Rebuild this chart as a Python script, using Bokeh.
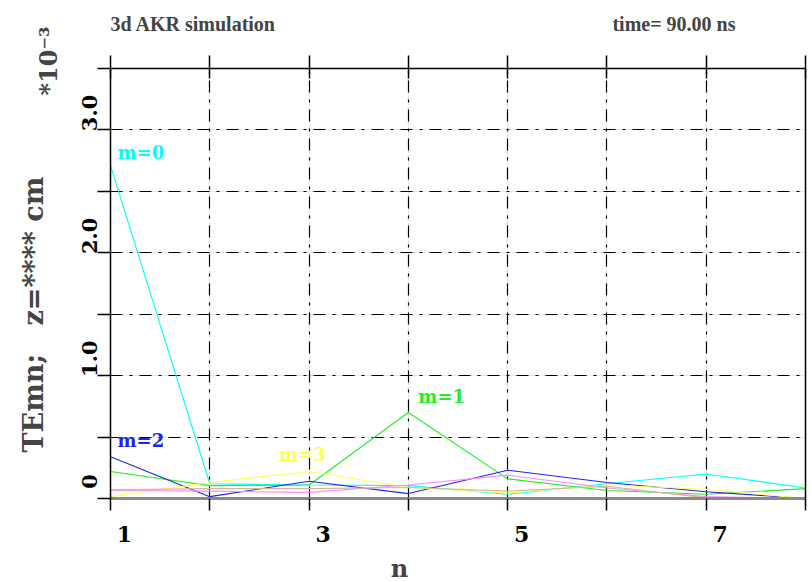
import math
from bokeh.plotting import figure
from bokeh.models import Label, LinearAxis, FixedTicker, Range1d, Grid
from bokeh.core.properties import value
from bokeh.embed import file_html
from bokeh.resources import INLINE

# ---- data (units of 1e-3) ----
n = [1, 2, 3, 4, 5, 6, 7, 8]
m0 = [2.71, 0.12, 0.11, 0.105, 0.035, 0.12, 0.20, 0.085]   # cyan
m1 = [0.22, 0.105, 0.11, 0.70, 0.16, 0.065, 0.035, 0.08]   # green
m2 = [0.34, 0.015, 0.14, 0.04, 0.23, 0.13, 0.055, 0.0]     # blue
m3 = [0.015, 0.13, 0.22, 0.09, 0.045, 0.11, 0.075, 0.0]    # yellow
m4 = [0.065, 0.06, 0.05, 0.11, 0.19, 0.085, 0.015, 0.0]    # pink
m5 = [0.07, 0.08, 0.08, 0.09, 0.06, 0.10, 0.005, 0.0]      # tan

series = [m0, m1, m2, m3, m4, m5]
colors = ["#00FFFF", "#22EE22", "#2222EE", "#FFFF55", "#FF88FF", "#D8B890"]
series_labels = ["m=0", "m=1", "m=2", "m=3"]
label_at = [0, 3, 0, 2]  # index in n where each label is attached

x_ticks = [1, 2, 3, 4, 5, 6, 7, 8]
x_label_ticks = [1, 3, 5, 7]
y_ticks = [0, 0.5, 1.0, 1.5, 2.0, 2.5, 3.0, 3.5]
y_label_ticks = [0, 1, 2, 3]
y_tick_labels = {0: "0", 1: "1.0", 2: "2.0", 3: "3.0"}

title_text = "3d AKR simulation"
time_text = "time= 90.00 ns"
ylabel_text = "TEmn;\u00a0\u00a0\u00a0z=**** cm"
scale_text = "*10\u207b\u00b3"
xlabel_text = "n"

SERIF = "DejaVu Serif"
TIMES = "Liberation Serif"

# pixel shifts of the tick labels relative to their ticks (as in the reference)
DX = 14 / 99.3
DY = 17 / 122.9

p = figure(width=812, height=582, x_range=Range1d(1, 8), y_range=Range1d(0, 3.5),
           output_backend="svg", toolbar_location=None,
           x_axis_location=None, y_axis_location=None,
           min_border_left=110, min_border_right=7, min_border_top=68, min_border_bottom=84)
p.extra_x_ranges = {"xlab": Range1d(1 - DX, 8 - DX)}
p.extra_y_ranges = {"ylab": Range1d(0 - DY, 3.5 - DY)}
p.outline_line_color = None
p.background_fill_color = "white"
p.border_fill_color = "white"

# grids
gx = Grid(dimension=0, ticker=FixedTicker(ticks=x_ticks[1:-1]),
          grid_line_color="black", grid_line_width=1.2, grid_line_dash="12 7 3 7")
gy = Grid(dimension=1, ticker=FixedTicker(ticks=y_ticks[1:-1]),
          grid_line_color="black", grid_line_width=1.2, grid_line_dash="12 7 3 7")
p.add_layout(gx)
p.add_layout(gy)

empty_x = {t: "" for t in x_ticks}
empty_y = {t: "" for t in y_ticks}


def tick_axis(ticks, overrides, out, inn, line_color, line_width):
    ax = LinearAxis(ticker=FixedTicker(ticks=ticks), major_label_overrides=overrides,
                    major_tick_out=out, major_tick_in=inn, minor_tick_out=0, minor_tick_in=0,
                    axis_line_color=line_color, axis_line_width=line_width,
                    major_tick_line_color="black", major_tick_line_width=1.5,
                    major_label_standoff=0, major_label_text_font_size="1px")
    return ax


below = tick_axis(x_ticks, empty_x, 12, 0, "#8a8a8a", 3)
above = tick_axis(x_ticks, empty_x, 13, 10, "black", 1.5)
left = tick_axis(y_ticks, empty_y, 13, 0, "black", 1.5)
right = tick_axis([], {}, 0, 0, "black", 1.5)

below_lab = LinearAxis(x_range_name="xlab", ticker=FixedTicker(ticks=x_label_ticks),
                       axis_line_color=None, major_tick_line_color=None,
                       major_tick_out=0, major_tick_in=0, minor_tick_out=0, minor_tick_in=0,
                       major_label_standoff=15,
                       major_label_text_font=SERIF, major_label_text_font_style="bold",
                       major_label_text_font_size="22px", major_label_text_color="black")
left_lab = LinearAxis(y_range_name="ylab", ticker=FixedTicker(ticks=y_label_ticks),
                      major_label_overrides=y_tick_labels,
                      axis_line_color=None, major_tick_line_color=None,
                      major_tick_out=0, major_tick_in=0, minor_tick_out=0, minor_tick_in=0,
                      major_label_standoff=0, major_label_orientation="vertical",
                      major_label_text_font=SERIF, major_label_text_font_style="bold",
                      major_label_text_font_size="21px", major_label_text_color="black")

p.add_layout(below, "below")
p.add_layout(below_lab, "below")
p.add_layout(above, "above")
p.add_layout(left, "left")
p.add_layout(left_lab, "left")
p.add_layout(right, "right")

# lines
for vals, c in zip(series, colors):
    p.line(n, vals, line_color=c, line_width=1.1)

# series labels
lab_offsets = [(7, -13), (10, -16), (7, -16), (-30, -17)]
for i, (txt, idx) in enumerate(zip(series_labels, label_at)):
    p.text(x=[n[idx]], y=[series[i][idx]], text=[txt], text_color=colors[i],
           text_font=value(SERIF), text_font_style="bold", text_font_size="18px",
           x_offset=lab_offsets[i][0], y_offset=lab_offsets[i][1],
           text_align="left", text_baseline="alphabetic")

# texts outside the frame (side panels)
p.add_layout(Label(x=1, y=0, text=ylabel_text, x_offset=-77, y_offset=46, angle=math.pi / 2,
                   text_font=SERIF, text_font_style="bold", text_font_size="27px",
                   text_align="left", text_baseline="middle"), "left")
p.add_layout(Label(x=1, y=3.5, text=scale_text, x_offset=-62, y_offset=-27, angle=math.pi / 2,
                   text_font=SERIF, text_font_style="bold", text_font_size="24px",
                   text_align="left", text_baseline="middle"), "left")
p.add_layout(Label(x=4, y=0, text=xlabel_text, x_offset=-9, y_offset=-70,
                   text_font=SERIF, text_font_style="bold", text_font_size="24px",
                   text_align="center", text_baseline="alphabetic"), "below")
p.add_layout(Label(x=1, y=3.5, text=title_text, x_offset=0, y_offset=45,
                   text_font=TIMES, text_font_style="bold", text_font_size="20px",
                   text_align="left", text_baseline="alphabetic"), "above")
p.add_layout(Label(x=8, y=3.5, text=time_text, x_offset=-70, y_offset=45,
                   text_font=TIMES, text_font_style="bold", text_font_size="20px",
                   text_align="right", text_baseline="alphabetic"), "above")

open("out.html", "w").write(file_html(p, INLINE))
